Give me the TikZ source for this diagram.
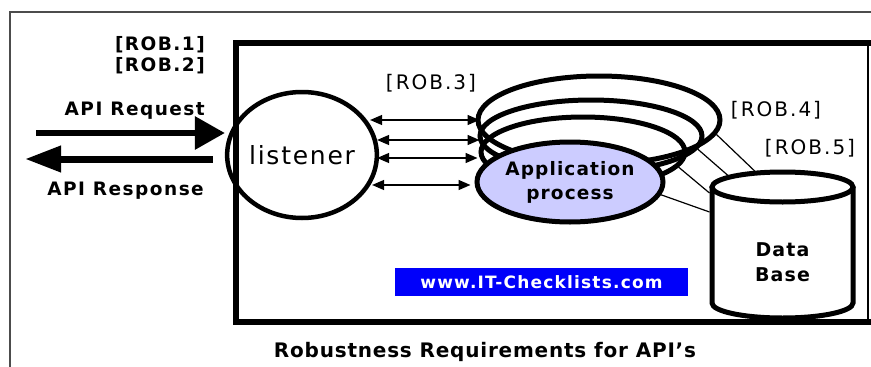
\documentclass[tikz,border=0pt]{standalone}
\usepackage{fontspec}
\setmainfont{DejaVu Sans}
\usetikzlibrary{positioning}
\usetikzlibrary{shapes.geometric,calc,arrows.meta}

\definecolor{appfill}{RGB}{204,204,255}
\definecolor{webblue}{RGB}{0,0,250}

\begin{document}
\begin{tikzpicture}[x=1pt, y=-1pt,
    ring/.style={ellipse, draw, line width=5pt, inner sep=0pt},
    duplex/.style={line width=1.4pt, {Triangle[length=12pt,width=10pt]}-{Triangle[length=12pt,width=10pt]}},
    dbline/.style={line width=1.2pt},
    boldtxt/.style={inner sep=0pt, font=\fontsize{18.5}{22}\selectfont\bfseries\addfontfeatures{LetterSpace=8}},
    thintxt/.style={inner sep=0pt, font=\fontsize{20}{22}\selectfont\addfontfeatures{LetterSpace=10}}]
	\useasboundingbox (0,0) rectangle (871,367);
	\clip (0,0) rectangle (871,367);
	% frames
	\draw[gray!60!black, line width=1.5pt] (10,380) -- (10,12) -- (880,12);
	\draw[line width=6pt] (880,43) -- (236,43) -- (236,322) -- (880,322);
	\draw[line width=1.5pt] (868,43) -- (868,322);
	% listener and application process
	\node[ellipse, draw, line width=4.5pt, minimum width=140pt, minimum height=126pt, inner sep=0pt, font=\fontsize{25}{28}\selectfont\addfontfeatures{LetterSpace=7}] (listener) at (302,155) {listener};
	\node[ring, minimum width=242pt, minimum height=88pt] (ring1) at (599,120) {};
	\node[ring, minimum width=222pt, minimum height=72pt] (ring2) at (591,136) {};
	\node[ring, minimum width=204pt, minimum height=70pt] (ring3) at (583,152) {};
	\node[ring, fill=appfill, minimum width=186pt, minimum height=80pt, align=center, font=\fontsize{18.5}{24}\selectfont\bfseries\addfontfeatures{LetterSpace=6}] (app) at (570,182) {Application\\process};
	% data base
	\draw[line width=5pt, fill=white] (712,187) -- (712,303) arc[start angle=180, end angle=0, x radius=70.5, y radius=15] -- (853,187);
	\node[ellipse, draw, line width=5pt, minimum width=141pt, minimum height=30pt, inner sep=0pt] (dbtop) at (782.5,187) {};
	\node[align=center, font=\fontsize{19}{25}\selectfont\bfseries\addfontfeatures{LetterSpace=6}] (db) at (782.5,262) {Data\\Base};
	\draw[dbline] (ring1.-7) -- (dbtop.150);
	\draw[dbline] (ring2.-7) -- (dbtop.168);
	\draw[dbline] (ring3.-9) -- ([yshift=-6pt]dbtop.west);
	\draw[dbline] (app.-8) -- ([yshift=-25pt]dbtop.west);
	% calls
	\foreach \xa/\ya/\xb/\yb in {-9/-35/5/-62, -2/-15/5/-42, -2/3/3/-24, -7/30/-4/3}
		\draw[duplex] ([shift={(\xa,\ya)}]listener.east) -- ([shift={(\xb,\yb)}]app.west);
	\coordinate (reqin) at (36,133);
	\coordinate (resout) at (25,159);
	\draw[line width=6pt, -{Triangle[length=30pt,width=32pt]}] (reqin) -- ([yshift=22pt]listener.west);
	\draw[line width=7pt, -{Triangle[length=36pt,width=25pt]}] ([shift={(-12,4)}]listener.west) -- (resout);
	% labels
	\node[boldtxt, anchor=base east] (rob1) at (205,50) {[ROB.1]};
	\node[boldtxt, anchor=base east] (rob2) at (205,71) {[ROB.2]};
	\node[boldtxt, anchor=base east] (req) at (205,115) {API Request};
	\node[boldtxt, anchor=base east] (res) at (204,195) {API Response};
	\node[thintxt, anchor=base] (rob3) at (431,89) {[ROB.3]};
	\node[thintxt, anchor=base] (rob4) at (776,116) {[ROB.4]};
	\node[thintxt, anchor=base] (rob5) at (810,154) {[ROB.5]};
	\node[fill=webblue, text=white, inner sep=0pt, minimum width=293pt, minimum height=28pt, font=\fontsize{17}{20}\selectfont\bfseries\addfontfeatures{LetterSpace=7}] (web) at (541.5,282) {www.IT-Checklists.com};
	\node[anchor=base, inner sep=0pt, font=\fontsize{20}{22}\selectfont\bfseries\addfontfeatures{LetterSpace=4}] (caption) at (485,357) {Robustness Requirements for API's};
\end{tikzpicture}
\end{document}
